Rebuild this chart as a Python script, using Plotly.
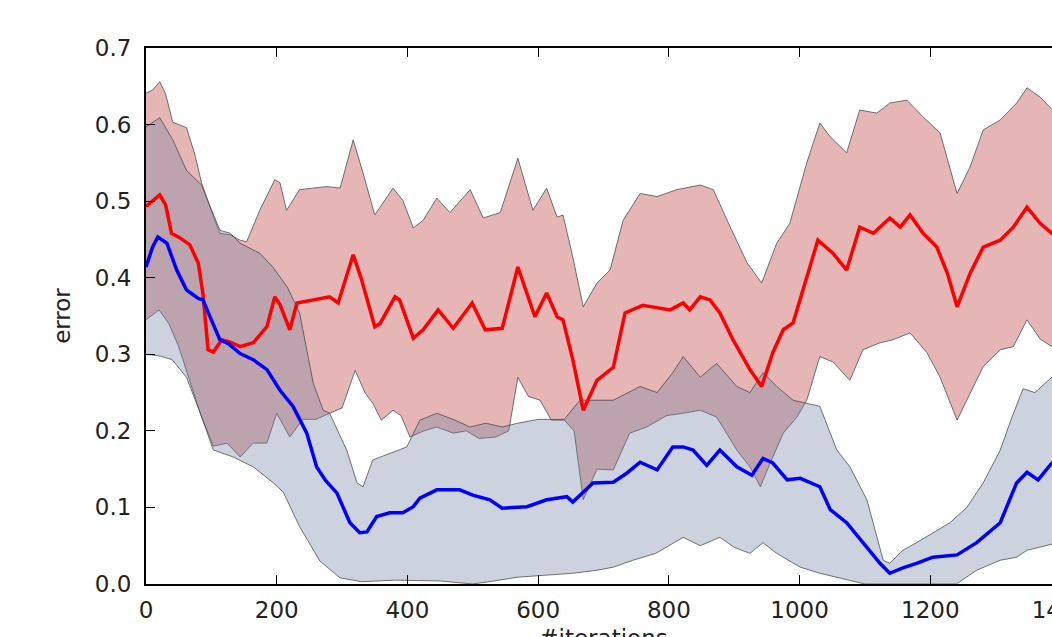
import plotly.graph_objects as go

# ---------------- data ----------------
x_ticks = [0, 200, 400, 600, 800, 1000, 1200, 1400]
y_ticks = [0.0, 0.1, 0.2, 0.3, 0.4, 0.5, 0.6, 0.7]

# red: mean line
red_mean_x = [0, 21, 30, 39, 52, 67, 80, 87, 95, 103, 116, 129, 144, 164, 185, 197, 205, 220, 231, 255,
              281, 294, 317, 330, 350, 358, 381, 388, 409, 424, 447, 470, 499, 519, 545, 569, 595, 613,
              629, 638, 653, 669, 690, 715, 733, 760, 791, 802, 822, 832, 848, 863, 878, 898, 924, 942,
              959, 975, 990, 1011, 1028, 1051, 1072, 1092, 1113, 1138, 1154, 1169, 1189, 1210, 1226,
              1241, 1261, 1281, 1307, 1327, 1348, 1368, 1386, 1400]
red_mean_y = [0.493, 0.508, 0.495, 0.458, 0.452, 0.443, 0.419, 0.38, 0.306, 0.303, 0.319, 0.316, 0.31,
              0.315, 0.336, 0.375, 0.365, 0.332, 0.367, 0.371, 0.375, 0.367, 0.43, 0.397, 0.336, 0.34,
              0.375, 0.371, 0.321, 0.332, 0.358, 0.334, 0.367, 0.332, 0.334, 0.414, 0.349, 0.38, 0.349,
              0.345, 0.293, 0.227, 0.266, 0.283, 0.354, 0.364, 0.36, 0.358, 0.367, 0.358, 0.375, 0.371,
              0.354, 0.319, 0.28, 0.258, 0.302, 0.332, 0.341, 0.401, 0.449, 0.432, 0.41, 0.466, 0.458,
              0.478, 0.466, 0.482, 0.458, 0.44, 0.406, 0.362, 0.406, 0.44, 0.449, 0.466, 0.492, 0.471,
              0.458, 0.455]

# red: band upper edge
red_up_x = [0, 10, 21, 30, 41, 62, 75, 85, 98, 113, 129, 144, 154, 174, 197, 205, 215, 235, 255, 277,
            297, 317, 332, 350, 378, 393, 409, 424, 445, 465, 496, 516, 542, 569, 592, 613, 629, 638,
            653, 669, 690, 710, 730, 756, 782, 812, 848, 868, 894, 920, 942, 965, 985, 1011, 1031, 1047,
            1072, 1092, 1118, 1138, 1164, 1189, 1215, 1241, 1261, 1281, 1307, 1332, 1348, 1368, 1386, 1400]
red_up_y = [0.641, 0.645, 0.656, 0.64, 0.603, 0.596, 0.56, 0.524, 0.492, 0.458, 0.456, 0.449, 0.447,
            0.488, 0.528, 0.524, 0.488, 0.515, 0.517, 0.519, 0.517, 0.58, 0.537, 0.482, 0.517, 0.501,
            0.465, 0.475, 0.504, 0.485, 0.515, 0.478, 0.485, 0.556, 0.488, 0.517, 0.479, 0.482, 0.427,
            0.362, 0.393, 0.41, 0.475, 0.51, 0.506, 0.515, 0.521, 0.515, 0.466, 0.419, 0.393, 0.445,
            0.471, 0.55, 0.602, 0.584, 0.563, 0.619, 0.615, 0.628, 0.632, 0.61, 0.589, 0.51, 0.545,
            0.593, 0.606, 0.628, 0.648, 0.636, 0.62, 0.61]

# red: band lower edge
red_low_x = [0, 20, 35, 50, 65, 83, 103, 124, 144, 164, 185, 200, 220, 240, 260, 281, 300, 320, 335,
             347, 360, 378, 390, 404, 425, 445, 470, 490, 510, 535, 555, 569, 585, 603, 620, 640, 655,
             669, 690, 715, 740, 766, 797, 822, 848, 873, 904, 924, 940, 955, 975, 996, 1011, 1031,
             1051, 1077, 1097, 1123, 1143, 1169, 1195, 1215, 1241, 1261, 1281, 1307, 1327, 1348, 1368,
             1386, 1400]
red_low_y = [0.345, 0.358, 0.34, 0.31, 0.27, 0.223, 0.18, 0.184, 0.166, 0.184, 0.184, 0.223, 0.192,
             0.215, 0.215, 0.223, 0.23, 0.279, 0.25, 0.236, 0.214, 0.227, 0.22, 0.192, 0.2, 0.205,
             0.197, 0.2, 0.19, 0.192, 0.2, 0.27, 0.245, 0.24, 0.214, 0.214, 0.2, 0.11, 0.15, 0.149,
             0.197, 0.205, 0.22, 0.223, 0.227, 0.218, 0.175, 0.153, 0.127, 0.158, 0.197, 0.218, 0.24,
             0.297, 0.29, 0.266, 0.306, 0.315, 0.319, 0.328, 0.302, 0.27, 0.214, 0.25, 0.284, 0.306,
             0.31, 0.345, 0.32, 0.31, 0.305]

# blue: mean line
blue_mean_x = [0, 10, 18, 32, 47, 62, 80, 87, 100, 113, 126, 144, 164, 185, 205, 225, 246, 261, 275,
               292, 312, 327, 338, 353, 373, 393, 409, 419, 445, 480, 500, 526, 545, 583, 613, 644, 653,
               684, 715, 736, 756, 782, 806, 822, 837, 858, 878, 904, 927, 944, 959, 981, 1001, 1031,
               1047, 1072, 1097, 1123, 1138, 1158, 1179, 1204, 1241, 1271, 1307, 1332, 1348, 1365,
               1386, 1400]
blue_mean_y = [0.414, 0.44, 0.453, 0.445, 0.41, 0.384, 0.373, 0.371, 0.345, 0.319, 0.314, 0.301, 0.293,
               0.28, 0.253, 0.232, 0.197, 0.153, 0.135, 0.119, 0.08, 0.067, 0.068, 0.088, 0.093, 0.093,
               0.101, 0.112, 0.123, 0.123, 0.116, 0.11, 0.099, 0.101, 0.11, 0.114, 0.107, 0.132, 0.133,
               0.145, 0.159, 0.149, 0.179, 0.179, 0.175, 0.155, 0.175, 0.153, 0.142, 0.164, 0.158,
               0.136, 0.138, 0.127, 0.097, 0.08, 0.054, 0.027, 0.014, 0.021, 0.027, 0.035, 0.038,
               0.054, 0.08, 0.132, 0.146, 0.136, 0.158, 0.165]

# blue: band upper edge
blue_up_x = [0, 21, 41, 62, 85, 100, 113, 129, 144, 174, 194, 216, 235, 256, 271, 281, 307, 323, 332,
             347, 373, 399, 419, 445, 470, 496, 520, 545, 569, 600, 640, 664, 690, 715, 756, 782, 806,
             822, 848, 873, 904, 924, 944, 965, 990, 1011, 1031, 1057, 1077, 1103, 1128, 1138, 1158,
             1179, 1204, 1230, 1256, 1281, 1307, 1325, 1342, 1360, 1386, 1400]
blue_up_y = [0.597, 0.609, 0.58, 0.54, 0.521, 0.49, 0.462, 0.458, 0.445, 0.432, 0.414, 0.388, 0.354,
             0.262, 0.227, 0.223, 0.175, 0.132, 0.127, 0.162, 0.171, 0.179, 0.214, 0.223, 0.215,
             0.205, 0.21, 0.205, 0.21, 0.215, 0.215, 0.24, 0.24, 0.24, 0.258, 0.25, 0.276, 0.297,
             0.27, 0.288, 0.258, 0.25, 0.276, 0.258, 0.24, 0.236, 0.232, 0.175, 0.153, 0.11, 0.031,
             0.027, 0.044, 0.054, 0.067, 0.08, 0.1, 0.132, 0.175, 0.218, 0.255, 0.25, 0.27, 0.275]

# blue: band lower edge
blue_low_x = [0, 20, 40, 62, 83, 103, 133, 164, 195, 210, 235, 266, 297, 330, 380, 450, 500, 540, 570,
              613, 653, 690, 715, 745, 780, 822, 848, 878, 900, 924, 944, 965, 1001, 1031, 1077, 1100,
              1240, 1271, 1307, 1332, 1348, 1386, 1400]
blue_low_y = [0.3, 0.298, 0.293, 0.27, 0.223, 0.175, 0.166, 0.153, 0.132, 0.12, 0.075, 0.03, 0.008,
              0.003, 0.005, 0.004, 0.0, 0.005, 0.009, 0.012, 0.014, 0.018, 0.022, 0.031, 0.04, 0.061,
              0.05, 0.061, 0.048, 0.04, 0.054, 0.04, 0.022, 0.014, 0.005, 0.0, 0.0, 0.018, 0.031,
              0.035, 0.044, 0.052, 0.055]

# ---------------- figure ----------------
EDGE = "rgba(70,70,70,0.75)"
FONT = "DejaVu Sans"

fig = go.Figure()

fig.add_trace(go.Scatter(
    x=red_up_x + red_low_x[::-1], y=red_up_y + red_low_y[::-1],
    fill="toself", fillcolor="rgba(178,34,34,0.33)",
    line=dict(color=EDGE, width=1), mode="lines", hoverinfo="skip", showlegend=False))

fig.add_trace(go.Scatter(
    x=blue_up_x + blue_low_x[::-1], y=blue_up_y + blue_low_y[::-1],
    fill="toself", fillcolor="rgba(112,128,160,0.35)",
    line=dict(color=EDGE, width=1), mode="lines", hoverinfo="skip", showlegend=False))

fig.add_trace(go.Scatter(x=red_mean_x, y=red_mean_y, mode="lines",
                         line=dict(color="#ff0000", width=3.5), showlegend=False))
fig.add_trace(go.Scatter(x=blue_mean_x, y=blue_mean_y, mode="lines",
                         line=dict(color="#0000ff", width=3.5), showlegend=False))

axis_common = dict(
    showline=True, linecolor="black", linewidth=2, mirror="ticks",
    ticks="inside", ticklen=9, tickwidth=1, tickcolor="black",
    showgrid=False, zeroline=False, ticklabeloverflow="allow",
    tickfont=dict(family=FONT, size=23, color="#222222"),
)

fig.update_xaxes(range=[0, 1400], tickvals=x_ticks, ticktext=[str(v) for v in x_ticks],
                 title=dict(text="#iterations", font=dict(family=FONT, size=23, color="#222222"),
                            standoff=8),
                 ticklabelstandoff=4, **axis_common)
fig.update_yaxes(range=[0, 0.7], tickvals=y_ticks, ticktext=[f"{v:.1f}" for v in y_ticks],
                 title=dict(text="error", font=dict(family=FONT, size=23, color="#222222"),
                            standoff=18),
                 ticklabelstandoff=8, **axis_common)

fig.update_layout(
    width=1110, height=690,
    margin=dict(l=146, r=49, t=48, b=106, autoexpand=False),
    paper_bgcolor="white", plot_bgcolor="white",
    font=dict(family=FONT),
)

fig.write_html(
    "out.html",
    config={"displayModeBar": False},
    post_script="document.body.style.margin='0';document.body.style.overflow='hidden';"
                "document.documentElement.style.overflow='hidden';",
)
